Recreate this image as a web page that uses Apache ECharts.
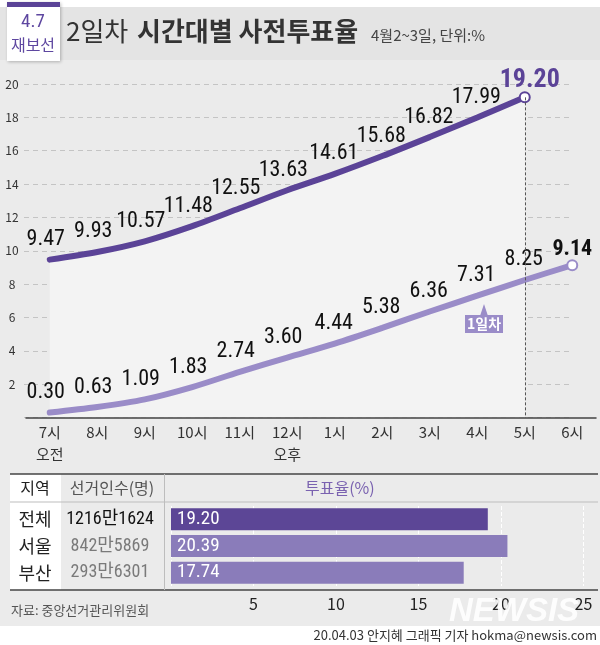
<!DOCTYPE html>
<html>
<head>
<meta charset="utf-8">
<script src="https://cdn.jsdelivr.net/npm/echarts@6/dist/echarts.min.js"></script>
<style>
html,body{margin:0;padding:0;background:#fff;}
#chart{width:600px;height:645px;background:linear-gradient(to bottom,#fff 0,#fff 7px,#e4e4e4 7px,#e4e4e4 60px,#ebebeb 60px,#ebebeb 626px,#fff 626px,#fff 645px);}
</style>
</head>
<body>
<div id="chart"></div>
<script>
// ---- data ----
const hours = ['7시','8시','9시','10시','11시','12시','1시','2시','3시','4시','5시','6시'];
const hourSub = ['오전','','','','','오후','','','','','',''];
const day2 = [9.47, 9.93, 10.57, 11.48, 12.55, 13.63, 14.61, 15.68, 16.82, 17.99, 19.20];
const day1 = [0.30, 0.63, 1.09, 1.83, 2.74, 3.60, 4.44, 5.38, 6.36, 7.31, 8.25, 9.14];
const regions = ['전체','서울','부산'];
const electorate = ['1216만1624','842만5869','293만6301'];
const turnout = [19.20, 20.39, 17.74];

const NUM = "'Liberation Sans Narrow','Noto Sans ExtraCondensed','Roboto Condensed','Open Sans Condensed','Noto Sans Condensed','DejaVu Sans Condensed','Noto Sans CJK KR',sans-serif";
const KR = "'Noto Sans CJK KR','Noto Sans',sans-serif";
const C2 = '#5b4397', C1 = '#9a8cc8';

const chart = echarts.init(document.getElementById('chart'), null, {renderer:'canvas'});

function lineData(arr, color, lastLabel) {
  const last = arr.length - 1;
  return arr.map((v, i) => {
    if (i === last) {
      return {value: v, symbol: 'circle', symbolSize: 10,
        itemStyle: {color: '#fff', borderColor: color, borderWidth: 2},
        label: lastLabel};
    }
    return {value: v, label: {offset: [i < 6 ? -4 : -1, 0]}};
  });
}

const fmt2 = p => Number(p.value).toFixed(2);

const option = {
  animation: false,
  backgroundColor: 'transparent',
  grid: [
    {left: 26, width: 570, top: 84, height: 333.6},
    {left: 24, width: 547, top: 84, height: 333.6},
    {left: 171, width: 412.5, top: 506, height: 80}
  ],
  xAxis: [
    {type: 'category', gridIndex: 0, data: hours, boundaryGap: true,
      axisLine: {lineStyle: {color: '#444', width: 1.5}},
      axisTick: {inside: true, length: 8, alignWithLabel: true, lineStyle: {color: '#444'}},
      axisLabel: {color: '#333', fontSize: 15, fontFamily: KR, margin: 4, lineHeight: 22,
        formatter: (v, i) => hourSub[i] ? v + '\n' + hourSub[i] : v},
      z: 5},
    {type: 'value', gridIndex: 1, min: 0, max: 1, show: false},
    {type: 'value', gridIndex: 2, min: 0, max: 25, interval: 5,
      axisLine: {show: false}, axisTick: {show: false},
      axisLabel: {color: '#222', fontSize: 16, fontFamily: KR, margin: 10,
        formatter: v => v === 0 ? '' : String(v)},
      splitLine: {show: true, lineStyle: {color: '#fff', type: 'dashed', width: 1}}}
  ],
  yAxis: [
    {type: 'value', gridIndex: 0, min: 0, max: 20, interval: 2,
      axisLine: {show: false}, axisTick: {show: false}, splitLine: {show: false},
      axisLabel: {color: '#333', fontSize: 12, fontFamily: KR, align: 'center', margin: 14,
        formatter: v => v === 0 ? '' : String(v)}},
    {type: 'value', gridIndex: 1, min: 0, max: 20, interval: 2,
      axisLine: {show: false}, axisTick: {show: false}, axisLabel: {show: false},
      splitLine: {show: true, lineStyle: {color: '#c4c4c4', type: [5, 4], width: 1}}},
    {type: 'category', gridIndex: 2, data: regions, inverse: true,
      axisLine: {show: false}, axisTick: {show: false},
      axisLabel: {margin: 12, align: 'right',
        formatter: (v, i) => '{a|' + v + '}' + (i === 0 ? '{b0|' : '{b|') + electorate[i] + '}',
        rich: {
          a: {width: 52, align: 'center', fontSize: 18, fontFamily: KR, color: '#222'},
          b0: {width: 98, align: 'center', fontSize: 18, fontFamily: NUM, color: '#111'},
          b: {width: 98, align: 'center', fontSize: 18, fontFamily: NUM, color: '#7a7a7a'}
        }}}
  ],
  series: [
    {name: '2일차', type: 'line', xAxisIndex: 0, yAxisIndex: 0, smooth: 0.3,
      symbol: 'circle', symbolSize: 0, showAllSymbol: true,
      data: lineData(day2, C2, {color: C2, fontSize: 26, fontWeight: 'bold', offset: [5, 0], distance: -2}),
      lineStyle: {color: C2, width: 6, cap: 'round'},
      itemStyle: {color: C2},
      areaStyle: {color: '#f3f3f3', opacity: 1, origin: 'start'},
      label: {show: true, position: 'top', distance: 9, fontSize: 22, fontFamily: NUM, color: '#111', formatter: fmt2},
      markLine: {silent: true, symbol: 'none', label: {show: false},
        lineStyle: {color: '#555', type: [3, 2], width: 1},
        data: [[{coord: [day2.length - 1, day2[day2.length - 1]]}, {coord: [day2.length - 1, 0]}]]},
      z: 3},
    {name: '1일차', type: 'line', xAxisIndex: 0, yAxisIndex: 0, smooth: 0.3,
      symbol: 'circle', symbolSize: 0, showAllSymbol: true,
      data: lineData(day1, C1, {fontWeight: 'bold', offset: [0, 0], distance: -1}),
      lineStyle: {color: C1, width: 6, cap: 'round'},
      itemStyle: {color: C1},
      label: {show: true, position: 'top', distance: 9, fontSize: 22, fontFamily: NUM, color: '#111', formatter: fmt2},
      z: 4},
    {name: '투표율', type: 'bar', xAxisIndex: 2, yAxisIndex: 2, barWidth: 22,
      data: turnout.map((v, i) => ({value: v, itemStyle: {color: i === 0 ? '#5c4696' : '#8a7cba'}})),
      label: {show: true, position: 'insideLeft', distance: 6, color: '#fff', fontSize: 19,
        fontFamily: NUM, formatter: fmt2}}
  ],
  graphic: [
    // header box
    {type: 'rect', shape: {x: 7, y: 2, width: 53, height: 59}, style: {fill: '#fff',
      shadowBlur: 3, shadowColor: 'rgba(0,0,0,0.25)', shadowOffsetX: 1, shadowOffsetY: 1}, z: 1},
    {type: 'rect', shape: {x: 7, y: 2, width: 53, height: 5}, style: {fill: C2}, z: 2},
    {type: 'text', x: 33, y: 22, style: {text: '4.7', fill: '#5e47a0', font: '19px ' + NUM, align: 'center', verticalAlign: 'middle'}, z: 2},
    {type: 'text', x: 33, y: 45, style: {text: '재보선', fill: '#5e47a0', font: '16px ' + KR, align: 'center', verticalAlign: 'middle'}, z: 2},
    {type: 'text', x: 66, y: 31, style: {text: '2일차', fill: '#333', font: '26px ' + KR, verticalAlign: 'middle'}, z: 2},
    {type: 'text', x: 137, y: 31, style: {text: '시간대별 사전투표율', fill: '#333', font: 'bold 26px ' + KR, verticalAlign: 'middle'}, z: 2},
    {type: 'text', x: 371, y: 35, style: {text: '4월2~3일, 단위:%', fill: '#444', font: '15px ' + KR, verticalAlign: 'middle'}, z: 2},
    // 1일차 callout
    {type: 'polygon', shape: {points: [[480, 316], [488, 316], [484, 304]]}, style: {fill: C1}, z: 10},
    {type: 'rect', shape: {x: 465, y: 315, width: 38, height: 18}, style: {fill: C1}, z: 10},
    {type: 'text', x: 484, y: 324, style: {text: '1일차', fill: '#fff', font: 'bold 14px ' + KR, align: 'center', verticalAlign: 'middle'}, z: 11},
    // table
    {type: 'rect', shape: {x: 10, y: 474, width: 51, height: 116}, style: {fill: '#fff'}, z: 0},
    {type: 'line', shape: {x1: 10, y1: 474, x2: 598, y2: 474}, style: {stroke: '#444', lineWidth: 1.5}, z: 3},
    {type: 'line', shape: {x1: 10, y1: 502, x2: 598, y2: 502}, style: {stroke: '#bdbdbd', lineWidth: 1}, z: 3},
    {type: 'line', shape: {x1: 10, y1: 590, x2: 598, y2: 590}, style: {stroke: '#444', lineWidth: 1.5}, z: 3},
    {type: 'line', shape: {x1: 164.5, y1: 474, x2: 164.5, y2: 590}, style: {stroke: '#bdbdbd', lineWidth: 1}, z: 3},
    {type: 'text', x: 35, y: 488, style: {text: '지역', fill: '#222', font: '16px ' + KR, align: 'center', verticalAlign: 'middle'}, z: 3},
    {type: 'text', x: 112, y: 488, style: {text: '선거인수(명)', fill: '#555', font: '16px ' + KR, align: 'center', verticalAlign: 'middle'}, z: 3},
    {type: 'text', x: 305, y: 488, style: {text: '투표율(%)', fill: '#7a62b0', font: '16px ' + KR, verticalAlign: 'middle'}, z: 3},
    {type: 'text', x: 11, y: 610, style: {text: '자료: 중앙선거관리위원회', fill: '#555', font: '13px ' + KR, verticalAlign: 'middle'}, z: 3},
    {type: 'text', x: 514, y: 612, style: {text: 'NEWSIS', fill: 'rgba(255,255,255,0.9)', font: 'italic 900 33px ' + "'Liberation Sans',sans-serif", align: 'center', verticalAlign: 'middle'}, z: 3},
    {type: 'text', x: 597, y: 635, style: {text: '20.04.03 안지혜 그래픽 기자 hokma@newsis.com', fill: '#333', font: '13px ' + KR, align: 'right', verticalAlign: 'middle'}, z: 3}
  ]
};
chart.setOption(option);
</script>
</body>
</html>
